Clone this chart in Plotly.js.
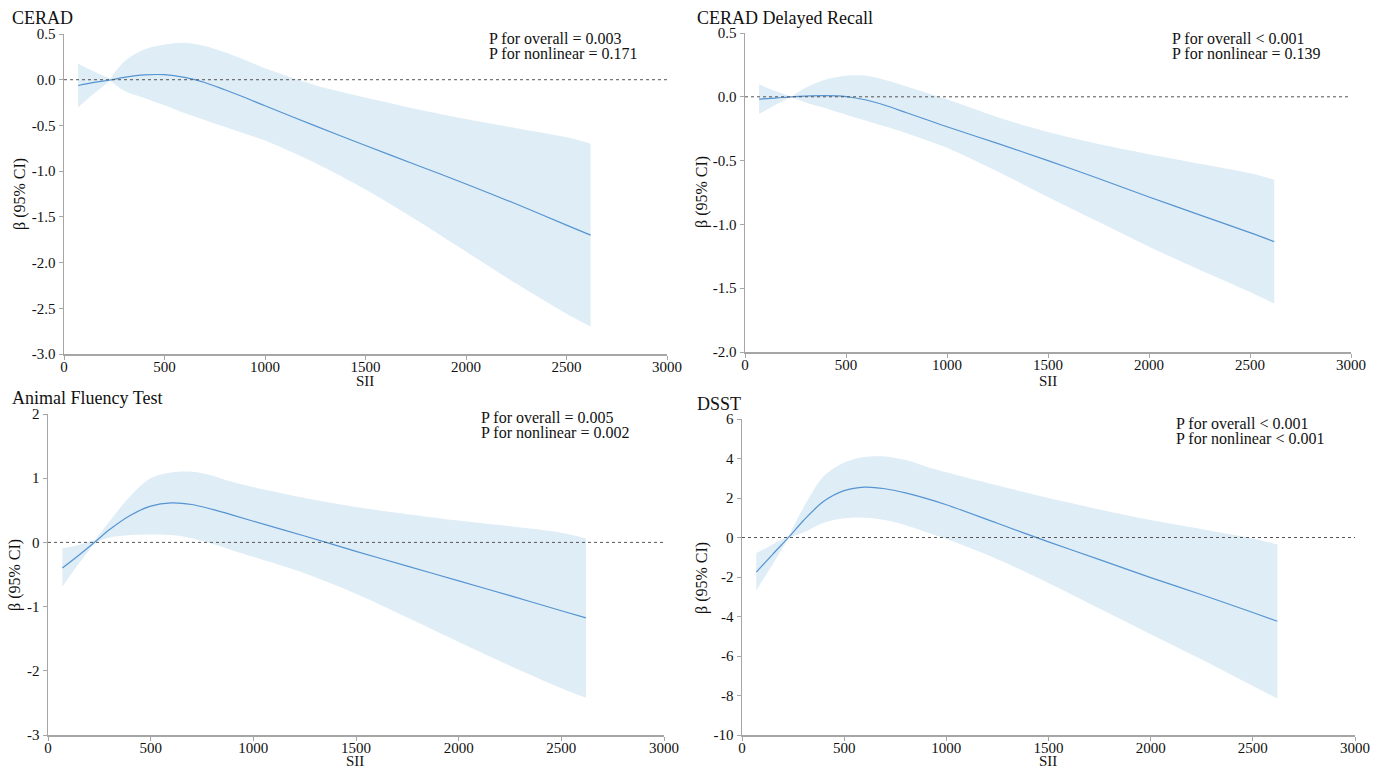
<!DOCTYPE html>
<html>
<head>
<meta charset="utf-8">
<script src="https://cdn.plot.ly/plotly-3.0.1.min.js"></script>
<style>html,body{margin:0;padding:0;background:#fff;}#chart{width:1384px;height:769px;}</style>
</head>
<body>
<div id="chart"></div>
<script>
// ---- data ----
const sii = [70, 150, 230, 300, 400, 500, 600, 700, 800, 900, 1000, 1250, 1500, 1750, 2000, 2250, 2500, 2620];

const ceradFit   = [-0.063, -0.03, -0.003, 0.025, 0.052, 0.055, 0.025, -0.03, -0.11, -0.195, -0.285, -0.505, -0.72, -0.93, -1.14, -1.36, -1.59, -1.70];
const ceradUpper = [0.175, 0.09, 0.01, 0.2, 0.33, 0.385, 0.405, 0.37, 0.30, 0.215, 0.125, -0.06, -0.195, -0.32, -0.43, -0.53, -0.63, -0.70];
const ceradLower = [-0.30, -0.15, -0.01, -0.12, -0.2, -0.28, -0.365, -0.44, -0.515, -0.59, -0.665, -0.91, -1.2, -1.53, -1.88, -2.23, -2.56, -2.70];

const delayFit   = [-0.018, -0.01, 0.0, 0.006, 0.009, 0.002, -0.025, -0.07, -0.125, -0.18, -0.235, -0.365, -0.50, -0.64, -0.785, -0.925, -1.065, -1.135];
const delayUpper = [0.097, 0.045, 0.0, 0.07, 0.135, 0.165, 0.165, 0.13, 0.08, 0.03, -0.02, -0.16, -0.275, -0.37, -0.45, -0.525, -0.60, -0.65];
const delayLower = [-0.135, -0.065, 0.0, -0.045, -0.09, -0.14, -0.187, -0.235, -0.285, -0.34, -0.40, -0.585, -0.785, -0.98, -1.175, -1.355, -1.53, -1.62];

const animalFit   = [-0.40, -0.20, 0.01, 0.20, 0.42, 0.565, 0.615, 0.59, 0.515, 0.425, 0.33, 0.10, -0.14, -0.37, -0.60, -0.83, -1.065, -1.175];
const animalUpper = [-0.09, -0.04, 0.04, 0.33, 0.72, 1.0, 1.09, 1.10, 1.04, 0.94, 0.86, 0.69, 0.55, 0.44, 0.34, 0.25, 0.15, 0.06];
const animalLower = [-0.69, -0.33, 0.0, 0.075, 0.115, 0.125, 0.115, 0.065, -0.02, -0.125, -0.225, -0.48, -0.80, -1.17, -1.55, -1.92, -2.27, -2.42];

const dsstFit   = [-1.75, -0.85, 0.03, 0.85, 1.83, 2.37, 2.55, 2.47, 2.26, 1.98, 1.66, 0.72, -0.22, -1.12, -2.03, -2.9, -3.8, -4.24];
const dsstUpper = [-0.79, -0.35, 0.1, 1.5, 3.1, 3.8, 4.08, 4.1, 3.92, 3.6, 3.3, 2.63, 2.0, 1.42, 0.88, 0.42, -0.05, -0.35];
const dsstLower = [-2.68, -1.35, 0.0, 0.25, 0.75, 0.97, 1.0, 0.88, 0.62, 0.28, -0.08, -1.1, -2.3, -3.6, -4.9, -6.18, -7.52, -8.15];

const panelTitles = ["CERAD", "CERAD Delayed Recall", "Animal Fluency Test", "DSST"];
const pOverall   = ["P for overall = 0.003", "P for overall < 0.001", "P for overall = 0.005", "P for overall < 0.001"];
const pNonlinear = ["P for nonlinear = 0.171", "P for nonlinear = 0.139", "P for nonlinear = 0.002", "P for nonlinear < 0.001"];
const xTitle = "SII";
const yTitle = "β (95% CI)";

const xTickVals = [0, 500, 1000, 1500, 2000, 2500, 3000];
const yTicks1 = [0.5, 0.0, -0.5, -1.0, -1.5, -2.0, -2.5, -3.0];
const yTicks2 = [0.5, 0.0, -0.5, -1.0, -1.5, -2.0];
const yTicks3 = [2, 1, 0, -1, -2, -3];
const yTicks4 = [6, 4, 2, 0, -2, -4, -6, -8, -10];

// ---- layout helpers ----
const W = 1384, H = 769;
const FONT = "'Liberation Serif', 'Times New Roman', Times, serif";
const lineColor = "rgb(86,148,210)";
const fillColor = "rgb(222,237,246)";
const axisColor = "#a6a6a6";
const PINCH = 2; // index where the confidence band narrows to zero

// pixel boxes [left, right, top, bottom]
const boxes = [
  [64, 667, 34, 354],
  [745, 1351, 33, 352],
  [48, 664, 414, 735],
  [742, 1355, 419, 735]
];
const panels = [
  {fit: ceradFit, up: ceradUpper, lo: ceradLower, ticks: yTicks1, fmt: v => v.toFixed(1)},
  {fit: delayFit, up: delayUpper, lo: delayLower, ticks: yTicks2, fmt: v => v.toFixed(1)},
  {fit: animalFit, up: animalUpper, lo: animalLower, ticks: yTicks3, fmt: v => String(v)},
  {fit: dsstFit, up: dsstUpper, lo: dsstLower, ticks: yTicks4, fmt: v => String(v)}
];
const titlePos = [[10, 18], [695, 18], [10, 398], [695, 404]];
const pPos = [[487, 38], [1170, 38], [479, 417], [1174, 423]];
const xTitlePos = [[365, 381], [1048, 381], [355, 761], [1048, 761]];
const yTitlePos = [[20, 194], [702, 192], [15, 575], [702, 578]];

const traces = [];
const layout = {
  width: W, height: H,
  margin: {l: 0, r: 0, t: 0, b: 0},
  paper_bgcolor: "#fff", plot_bgcolor: "#fff",
  showlegend: false,
  font: {family: FONT, size: 15, color: "#111"},
  annotations: [], shapes: []
};

function ann(x, y, text, size, opts) {
  return Object.assign({xref: "paper", yref: "paper", x: x / W, y: 1 - y / H,
    xanchor: "left", yanchor: "middle", showarrow: false, text: text,
    font: {family: FONT, size: size, color: "#111"}}, opts || {});
}

panels.forEach((p, i) => {
  const n = i + 1;
  const xa = "x" + (n === 1 ? "" : n), ya = "y" + (n === 1 ? "" : n);
  const b = boxes[i];
  // band drawn in two pieces, either side of the pinch point
  [[0, PINCH + 1], [PINCH, sii.length]].forEach(([s, e]) => {
    traces.push({x: sii.slice(s, e), y: p.lo.slice(s, e), xaxis: xa, yaxis: ya, mode: "lines",
      line: {width: 0, shape: "spline", smoothing: 0.9}, hoverinfo: "skip"});
    traces.push({x: sii.slice(s, e), y: p.up.slice(s, e), xaxis: xa, yaxis: ya, mode: "lines",
      line: {width: 0, shape: "spline", smoothing: 0.9}, fill: "tonexty", fillcolor: fillColor, hoverinfo: "skip"});
  });
  traces.push({x: sii, y: p.fit, xaxis: xa, yaxis: ya, mode: "lines",
    line: {width: 1.2, color: lineColor, shape: "spline", smoothing: 0.9}});
  const yr = [p.ticks[p.ticks.length - 1], p.ticks[0]];
  layout["xaxis" + (n === 1 ? "" : n)] = {
    domain: [b[0] / W, b[1] / W], anchor: ya, range: [0, 3000],
    tickvals: xTickVals, ticktext: xTickVals.map(String),
    showgrid: false, zeroline: false, showline: true, linecolor: axisColor, linewidth: 1.5,
    ticks: "outside", ticklen: 4, tickcolor: axisColor, ticklabelstandoff: -6,
    tickfont: {family: FONT, size: 15, color: "#111"}
  };
  layout["yaxis" + (n === 1 ? "" : n)] = {
    domain: [1 - b[3] / H, 1 - b[2] / H], anchor: xa, range: yr,
    tickvals: p.ticks, ticktext: p.ticks.map(p.fmt),
    showgrid: false, zeroline: false, showline: true, linecolor: axisColor, linewidth: 1.5,
    ticks: "outside", ticklen: 4, tickcolor: axisColor,
    tickfont: {family: FONT, size: 15, color: "#111"}
  };
  layout.shapes.push({type: "line", xref: xa, yref: ya, x0: 0, x1: 3000, y0: 0, y1: 0,
    line: {color: "#555", width: 1, dash: "dot"}, layer: "above"});
  layout.annotations.push(ann(titlePos[i][0], titlePos[i][1], panelTitles[i], 18));
  layout.annotations.push(ann(pPos[i][0], pPos[i][1], pOverall[i], 16));
  layout.annotations.push(ann(pPos[i][0], pPos[i][1] + 15, pNonlinear[i], 16));
  layout.annotations.push(ann(xTitlePos[i][0], xTitlePos[i][1], xTitle, 15, {xanchor: "center"}));
  layout.annotations.push(ann(yTitlePos[i][0], yTitlePos[i][1], yTitle, 16, {xanchor: "center", textangle: -90}));
});

Plotly.newPlot("chart", traces, layout, {displayModeBar: false, staticPlot: true});
</script>
</body>
</html>
